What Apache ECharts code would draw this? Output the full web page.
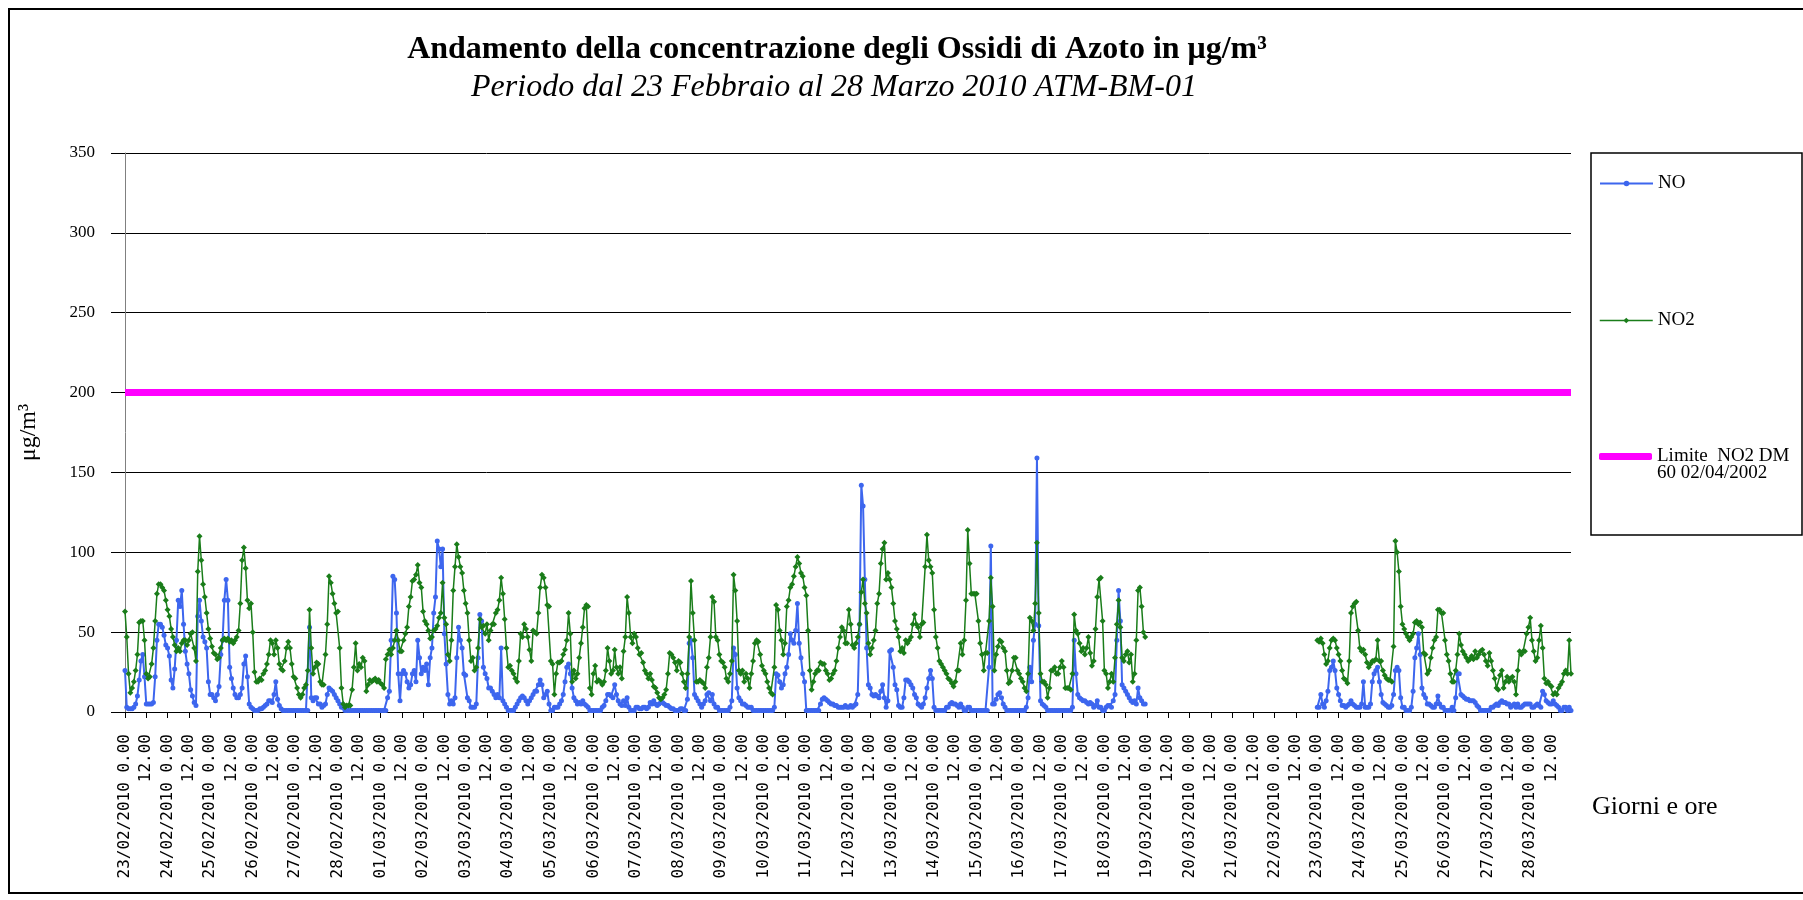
<!doctype html>
<html lang="it">
<head>
<meta charset="UTF-8">
<title>Ossidi di Azoto - ATM-BM-01</title>
<script src="https://cdn.jsdelivr.net/npm/echarts@6/dist/echarts.min.js"></script>
<style>
  html, body { margin: 0; padding: 0; background: #fff; }
  #chart { width: 1803px; height: 900px; }
</style>
</head>
<body>
<div id="chart"></div>
<script>
// giorni del periodo (una categoria per ogni ora)
const days = [
  '23/02/2010', '24/02/2010', '25/02/2010', '26/02/2010', '27/02/2010', '28/02/2010',
  '01/03/2010', '02/03/2010', '03/03/2010', '04/03/2010', '05/03/2010', '06/03/2010',
  '07/03/2010', '08/03/2010', '09/03/2010', '10/03/2010', '11/03/2010', '12/03/2010',
  '13/03/2010', '14/03/2010', '15/03/2010', '16/03/2010', '17/03/2010', '18/03/2010',
  '19/03/2010', '20/03/2010', '21/03/2010', '22/03/2010', '23/03/2010', '24/03/2010',
  '25/03/2010', '26/03/2010', '27/03/2010', '28/03/2010'
];

// NO2 orario, dal 23/02 0.00 al 18/03 23.00 (una riga per giorno)
const no2Part1 = [
  63,47,24,12,15,19,26,36,56,57,57,45,24,21,22,30,40,57,74,80,80,78,76,70,
  64,60,52,47,42,38,40,38,43,45,45,42,45,49,50,40,32,88,110,95,80,72,62,52,
  46,41,37,36,33,34,40,45,46,45,46,44,45,43,45,47,51,68,95,103,90,70,65,68,
  50,25,19,19,21,20,24,26,30,36,45,43,36,45,40,30,27,26,32,40,44,40,30,22,
  21,15,11,9,11,15,17,26,64,40,24,28,31,30,19,17,17,36,55,85,81,74,68,62,
  63,40,15,5,3,4,4,4,14,28,43,26,30,28,34,32,13,17,20,19,20,21,19,20,
  18,17,15,33,36,39,36,40,45,51,45,38,38,45,49,53,66,72,82,83,86,92,81,78,
  63,57,55,51,46,47,51,52,54,59,62,81,59,55,36,32,45,76,91,105,97,91,87,76,
  68,62,45,32,34,26,28,40,58,53,54,49,55,45,51,55,55,62,64,70,84,74,58,40,
  28,29,26,24,21,19,32,49,47,55,52,47,39,32,51,50,49,62,78,86,84,78,67,66,
  32,30,11,24,31,31,32,36,39,45,62,49,19,26,21,24,34,43,53,65,67,66,15,11,
  24,29,19,20,19,17,19,26,40,32,24,26,39,28,24,28,21,38,47,72,62,47,43,49,
  47,40,36,37,31,26,24,21,24,20,16,15,12,9,8,9,11,14,24,37,36,34,31,26,
  32,31,24,19,15,24,47,82,62,45,19,19,20,19,18,15,28,34,47,72,69,47,45,36,
  32,31,28,21,19,24,32,86,76,57,26,24,26,19,24,21,15,24,32,43,45,44,36,29,
  26,24,19,15,12,11,28,67,64,51,45,36,43,66,70,78,80,85,91,97,93,87,85,78,
  73,51,26,14,19,24,26,26,31,30,30,26,24,20,21,24,26,32,40,47,53,51,43,43,
  64,55,42,40,43,47,55,75,83,68,62,43,36,40,45,51,68,74,93,102,106,83,87,83,
  78,68,57,52,47,38,40,37,45,43,45,47,55,61,55,53,47,55,56,91,111,95,91,87,
  64,47,40,32,30,28,26,24,21,20,18,16,19,26,26,43,36,45,70,114,93,74,74,74,
  74,57,43,36,26,37,37,57,84,66,26,36,41,45,44,40,38,26,18,19,26,34,34,26,
  24,21,19,15,13,24,59,57,51,68,106,62,24,19,19,17,9,15,26,26,28,24,24,28,
  32,28,15,15,15,14,24,61,51,49,43,38,40,36,40,47,37,29,32,52,72,83,84,57,
  26,24,15,19,24,19,34,55,70,53,34,32,36,38,31,36,19,24,45,76,78,66,50,47
];

// NO2 orario, dal 23/03 0.00 al 28/03 23.00
const no2Part2 = [
  45,44,46,43,36,30,32,40,45,46,45,40,36,32,26,21,20,18,32,62,66,68,69,51,
  40,38,39,36,31,28,30,32,32,33,45,32,32,26,23,21,20,20,19,41,107,100,88,66,
  55,52,49,47,45,47,49,56,57,55,56,53,37,36,24,26,34,40,45,47,64,64,62,62,
  45,36,32,24,19,19,26,36,49,42,38,36,34,32,33,35,33,38,34,36,38,39,36,32,
  29,37,32,26,21,15,14,23,26,15,19,22,19,21,22,19,11,26,38,36,38,38,49,53,
  59,45,38,32,34,45,54,40,21,18,19,17,16,11,12,11,15,17,19,24,26,24,45,24
];

// NO orario, dal 23/02 0.00 al 18/03 23.00
const noPart1 = [
  26,3,2,2,2,3,5,10,20,32,36,22,5,5,5,5,6,22,45,55,55,53,48,42,
  40,35,20,15,27,45,70,66,76,55,38,30,24,14,10,6,4,60,70,57,47,44,40,19,
  11,11,9,7,11,16,36,45,70,83,70,28,21,15,11,9,9,11,15,30,35,22,5,3,
  2,1,1,1,2,2,3,4,5,7,7,6,11,19,8,4,2,1,1,1,1,1,1,1,
  1,1,1,1,1,1,1,1,53,9,7,9,9,5,5,3,4,5,11,15,14,13,11,9,
  7,5,3,3,1,1,1,1,1,1,1,1,1,1,1,1,1,1,1,1,1,1,1,1,
  1,1,1,1,9,13,45,85,83,62,24,7,24,26,24,19,15,17,24,26,19,45,34,24,
  28,26,30,17,34,40,62,72,107,102,91,102,49,30,11,5,7,5,9,34,53,45,40,24,
  23,9,7,3,3,3,5,34,61,57,28,24,21,15,15,13,11,9,11,9,40,7,5,3,
  1,1,1,1,3,5,7,9,10,9,7,5,7,9,11,13,13,17,20,17,9,11,13,5,
  1,1,3,3,3,5,7,11,19,28,30,24,15,9,7,5,6,5,7,5,4,3,1,1,
  1,1,1,1,1,3,4,7,11,11,10,9,17,11,7,5,4,7,4,9,3,1,1,1,
  3,3,2,2,3,3,2,3,6,5,7,5,4,5,6,6,5,4,4,3,2,2,1,1,
  1,2,2,1,1,8,43,45,34,11,9,7,5,3,5,7,11,12,7,11,5,3,3,1,
  1,1,1,1,1,3,7,40,36,15,9,7,5,5,4,3,3,3,1,1,1,1,1,1,
  1,1,1,1,1,1,3,24,23,19,15,17,24,28,36,49,45,43,51,68,43,34,24,19,
  1,1,1,1,1,1,1,1,5,8,9,8,7,6,5,5,4,4,3,3,3,3,4,3,
  3,4,3,4,5,11,55,142,129,83,40,17,15,11,10,11,10,9,13,17,9,3,7,38,
  39,28,17,14,4,3,3,9,20,20,19,17,15,11,9,5,4,3,5,9,15,21,26,21,
  3,1,1,1,1,1,1,3,3,5,6,5,5,4,3,5,3,1,1,3,3,1,1,1,
  1,1,1,1,1,1,1,28,104,5,5,8,11,12,9,5,3,1,1,1,1,1,1,1,
  1,1,1,1,3,9,28,19,45,55,159,54,7,5,4,3,1,1,1,1,1,1,1,1,
  1,1,1,1,1,1,3,45,24,11,9,8,7,7,6,5,6,5,3,4,7,3,3,1,
  1,3,4,4,3,7,11,45,76,57,17,15,13,11,9,7,6,7,5,15,9,7,5,5
];

// NO orario, dal 23/03 0.00 al 28/03 23.00
const noPart2 = [
  3,3,11,5,3,7,13,26,28,32,26,15,11,7,4,4,3,4,5,7,5,4,3,3,
  3,5,19,3,3,3,5,19,24,26,28,19,11,6,5,4,3,3,4,11,26,28,26,9,
  3,3,1,1,1,3,13,34,40,49,36,15,11,9,5,5,4,3,3,5,10,5,3,3,
  1,1,1,1,3,1,9,24,24,11,10,9,8,8,7,7,7,6,4,3,1,1,1,1,
  1,1,3,3,4,5,4,6,7,6,6,5,5,3,4,5,3,5,3,3,4,5,5,5,
  5,3,3,4,5,4,3,13,11,7,6,5,5,7,5,4,3,1,1,3,3,1,3,1
];

// dal 19/03 al 22/03 nessun dato (4 giorni)
const missingHours = 4 * 24;

// limite orario NO2 (DM 60 02/04/2002)
const limitNO2 = 200;

const seriesNames = ['NO', 'NO2', 'Limite  NO2 DM\n60 02/04/2002'];

// ------------------------------------------------------------------
const categories = [];
days.forEach(function (d) {
  for (let h = 0; h < 24; h++) categories.push(d + ' ' + h + '.00');
});
const gap = new Array(missingHours).fill(null);
const noData = noPart1.concat(gap, noPart2);
const no2Data = no2Part1.concat(gap, no2Part2);

const blue = '#3d66ee';
const green = '#1a7d1a';
const magenta = '#ff00ff';
const serif = "'Liberation Serif', 'Times New Roman', serif";

const chart = echarts.init(document.getElementById('chart'));

const every12 = function (i) { return i % 12 === 0; };

const legendText = { fontFamily: serif, fontSize: 19, lineHeight: 17, color: '#000' };

chart.setOption({
  animation: false,
  backgroundColor: '#fff',
  title: [
    {
      text: 'Andamento della concentrazione degli Ossidi di Azoto in \u03bcg/m\u00b3',
      left: 832,
      top: 29,
      textAlign: 'center',
      textStyle: { fontFamily: serif, fontSize: 32, fontWeight: 'bold', color: '#000' }
    },
    {
      text: 'Periodo dal 23 Febbraio al 28 Marzo 2010 ATM-BM-01',
      left: 829,
      top: 67,
      textAlign: 'center',
      textStyle: { fontFamily: serif, fontSize: 32, fontStyle: 'italic', fontWeight: 'normal', color: '#000' }
    }
  ],
  legend: [
    {
      data: [seriesNames[0]], left: 1599, top: 174, padding: 0,
      itemWidth: 53, itemHeight: 7, lineStyle: { width: 'inherit' },
      textStyle: legendText
    },
    {
      data: [seriesNames[1]], left: 1599, top: 311, padding: 0,
      itemWidth: 53, itemHeight: 7, lineStyle: { width: 'inherit' },
      textStyle: legendText
    },
    {
      data: [{ name: seriesNames[2], icon: 'roundRect' }], left: 1599, top: 430, padding: 0,
      itemWidth: 53, itemHeight: 7,
      // prima riga del testo allineata al simbolo
      formatter: function (name) { return ' \n' + name; },
      textStyle: legendText
    }
  ],
  grid: { left: 125, right: 232, top: 153, bottom: 188, containLabel: false },
  xAxis: {
    type: 'category',
    data: categories,
    boundaryGap: false,
    axisLine: { lineStyle: { color: '#000', width: 1 } },
    axisTick: { show: true, interval: every12, length: 6, lineStyle: { color: '#000' } },
    axisLabel: {
      interval: every12,
      rotate: 90,
      margin: 22,
      fontFamily: "'DejaVu Sans Mono', monospace",
      fontSize: 16,
      color: '#000',
      formatter: function (v) {
        return v.slice(-5) === ' 0.00' ? v : v.split(' ')[1];
      }
    },
    splitLine: { show: false }
  },
  yAxis: {
    type: 'value',
    min: 0,
    max: 350,
    interval: 50,
    name: '\u03bcg/m\u00b3',
    nameLocation: 'middle',
    nameGap: 84,
    nameTextStyle: { fontFamily: serif, fontSize: 24, color: '#000' },
    axisLine: { show: true, lineStyle: { color: '#808080', width: 1 } },
    axisTick: { show: true, length: 14, lineStyle: { color: '#000' } },
    axisLabel: { fontFamily: serif, fontSize: 17, color: '#000', margin: 30 },
    splitLine: { lineStyle: { color: '#000', width: 1 } }
  },
  series: [
    {
      name: seriesNames[0],
      type: 'line',
      data: noData,
      symbol: 'circle',
      symbolSize: 5,
      showSymbol: true,
      showAllSymbol: true,
      connectNulls: false,
      lineStyle: { color: blue, width: 2 },
      itemStyle: { color: blue },
      z: 2
    },
    {
      name: seriesNames[1],
      type: 'line',
      data: no2Data,
      symbol: 'diamond',
      symbolSize: 6,
      showSymbol: true,
      showAllSymbol: true,
      connectNulls: false,
      lineStyle: { color: green, width: 1.5 },
      itemStyle: { color: green },
      z: 3
    },
    {
      name: seriesNames[2],
      type: 'line',
      data: [[categories[0], limitNO2], [categories[categories.length - 1], limitNO2]],
      symbol: 'none',
      lineStyle: { color: magenta, width: 7 },
      itemStyle: { color: magenta },
      z: 4
    }
  ],
  graphic: [
    {
      type: 'rect',
      shape: { x: 9, y: 9, width: 1800, height: 884 },
      style: { fill: null, stroke: '#000', lineWidth: 2 },
      silent: true
    },
    {
      type: 'rect',
      shape: { x: 1591, y: 153, width: 211, height: 382 },
      style: { fill: null, stroke: '#000', lineWidth: 1.5 },
      silent: true
    },
    {
      type: 'text',
      left: 1592,
      top: 794,
      style: { text: 'Giorni e ore', font: '26px ' + serif, fill: '#000' },
      silent: true
    }
  ]
});
</script>
</body>
</html>
